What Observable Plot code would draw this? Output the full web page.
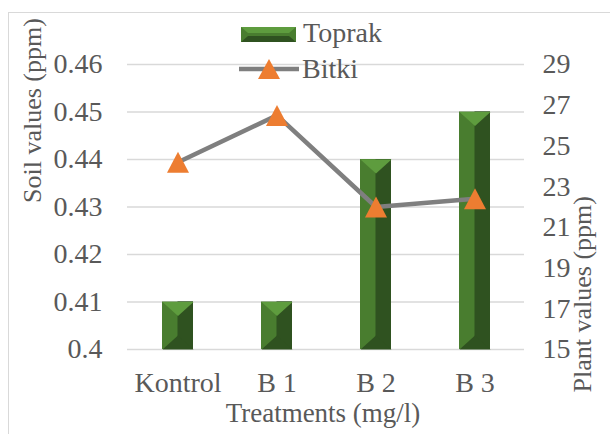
<!DOCTYPE html>
<html><head><meta charset="utf-8">
<script src="https://cdn.jsdelivr.net/npm/d3@7"></script>
<script src="https://cdn.jsdelivr.net/npm/@observablehq/plot@0.6"></script>
<style>
body{margin:0;background:#fff;}
#wrap{position:relative;width:610px;height:434px;overflow:hidden;font-family:"Liberation Serif","DejaVu Serif",serif;color:#595959;}
#frame{position:absolute;left:8px;top:12px;width:620px;height:440px;border-left:1px solid #d9d9d9;border-top:1px solid #d9d9d9;}
#chart{position:absolute;left:0;top:0;}
#chart svg, #chart svg text{font-family:"Liberation Serif","DejaVu Serif",serif !important;}
.leg{position:absolute;font-size:28px;line-height:28px;white-space:nowrap;}
.sw{position:absolute;}
</style></head><body>
<div id="wrap">
  <div id="frame"></div>
  <div id="chart"></div>
  <svg class="sw" style="left:241px;top:27px" width="55" height="15">
    <rect x="0" y="0" width="55" height="15" fill="#497d2f"/>
    <polygon points="0,0 55,0 48,6 7,6" fill="#5e9c3e"/>
    <polygon points="0,15 55,15 48,9 7,9" fill="#2f5220"/>
  </svg>
  <span class="leg" id="l1" style="left:303px;top:19px"></span>
  <svg class="sw" style="left:239px;top:58px" width="60" height="22">
    <line x1="0" y1="11" x2="60" y2="11" stroke="#7f7f7f" stroke-width="4.5" stroke-linecap="round"/>
    <polygon points="30,1 41,21 19,21" fill="#ed7d31"/>
  </svg>
  <span class="leg" id="l2" style="left:302px;top:55px"></span>
</div>
<script>
const categories = ["Kontrol", "B 1", "B 2", "B 3"];
const soilValues = [0.41, 0.41, 0.44, 0.45];
const plantValues = [24.2, 26.5, 22.0, 22.4];
const soilTicks = [0.40, 0.41, 0.42, 0.43, 0.44, 0.45, 0.46];
const plantTicks = [15, 17, 19, 21, 23, 25, 27, 29];
const seriesNames = ["Toprak", "Bitki"];
const yTitleLeft = "Soil values (ppm)";
const yTitleRight = "Plant values (ppm)";
const xTitle = "Treatments (mg/l)";

document.getElementById("l1").textContent = seriesNames[0];
document.getElementById("l2").textContent = seriesNames[1];

const soilMin = soilTicks[0], soilMax = soilTicks[soilTicks.length - 1];
const plantMin = plantTicks[0], plantMax = plantTicks[plantTicks.length - 1];
const toSoil = p => soilMin + (p - plantMin) / (plantMax - plantMin) * (soilMax - soilMin);
const toPlant = s => plantMin + (s - soilMin) / (soilMax - soilMin) * (plantMax - plantMin);

const data = categories.map((c, i) => ({c, s: soilValues[i], p: toSoil(plantValues[i])}));

const chevron = {draw(ctx) { ctx.moveTo(-15.5, 0); ctx.lineTo(15.5, 0); ctx.lineTo(0, 14); ctx.closePath(); }};
const baseTri = {draw(ctx) { ctx.moveTo(-15.5, 0); ctx.lineTo(15.5, 0); ctx.lineTo(0, -14); ctx.closePath(); }};
const marker = {draw(ctx) { ctx.moveTo(0, -10.5); ctx.lineTo(11, 10.5); ctx.lineTo(-11, 10.5); ctx.closePath(); }};

const light = "#5e9c3e", mid = "#497d2f", dark = "#2f5220";
const serif = "'Liberation Serif','DejaVu Serif',serif";
const fontCSS = {fontFamily: serif, fontSize: 28, fill: "#595959"};

const plot = Plot.plot({
  width: 610, height: 434,
  marginLeft: 127, marginRight: 86, marginTop: 64, marginBottom: 85,
  style: {fontFamily: serif, fontSize: "28px", color: "#595959", background: "transparent"},
  x: {domain: categories, paddingInner: 0.688, paddingOuter: 0.344},
  y: {domain: [soilMin, soilMax]},
  marks: [
    Plot.ruleY(soilTicks, {stroke: "#d9d9d9", strokeWidth: 1.3}),
    Plot.barY(data, {x: "c", y1: () => soilMin, y2: "s", fill: mid}),
    Plot.barY(data, {x: "c", y1: () => soilMin, y2: "s", fill: dark, insetLeft: 15.5}),
    Plot.dot(data, {x: "c", y: "s", symbol: chevron, fill: light, r: 5}),
    Plot.dot(data, {x: "c", y: () => soilMin, symbol: baseTri, fill: dark, r: 5}),
    Plot.line(data, {x: "c", y: "p", stroke: "#7f7f7f", strokeWidth: 4.5}),
    Plot.dot(data, {x: "c", y: "p", symbol: marker, fill: "#ed7d31", r: 5}),
    Plot.axisY(soilTicks, {anchor: "left", tickSize: 0, tickPadding: 25, tickFormat: d => String(+d.toFixed(2)), label: null, fontSize: 28}),
    Plot.axisY(plantTicks.map(toSoil), {anchor: "right", tickSize: 0, tickPadding: 18, tickFormat: d => String(Math.round(toPlant(d))), label: null, fontSize: 28}),
    Plot.axisX({tickSize: 0, tickPadding: 23, label: null, fontSize: 28}),
    Plot.text([yTitleLeft], {text: d => d, frameAnchor: "left", dx: -95, dy: -4, rotate: -90, ...fontCSS, fontSize: 26}),
    Plot.text([yTitleRight], {text: d => d, frameAnchor: "right", dx: 58, dy: -11, rotate: -90, ...fontCSS, fontSize: 26}),
    Plot.text([xTitle], {text: d => d, frameAnchor: "bottom", dx: -3, dy: 72, ...fontCSS, fontSize: 27})
  ]
});
document.getElementById("chart").appendChild(plot);
</script>
</body></html>
